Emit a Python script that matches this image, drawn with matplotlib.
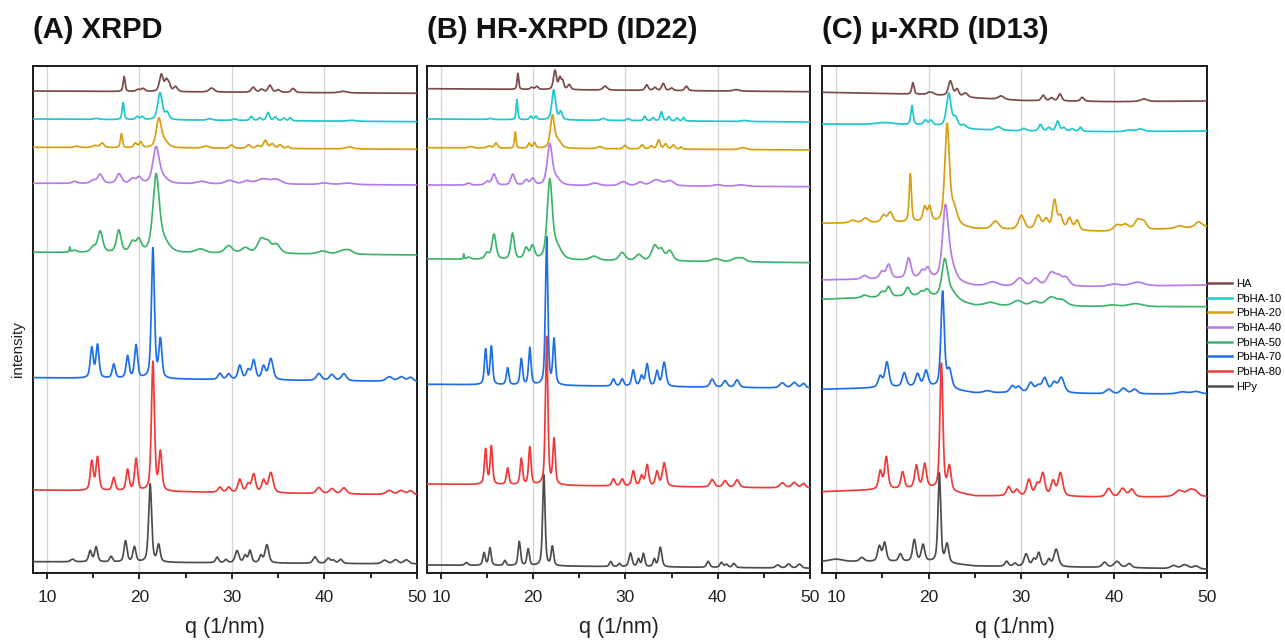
import numpy as np
import matplotlib
matplotlib.use("Agg")
import matplotlib.pyplot as plt
from matplotlib.lines import Line2D

plt.rcParams['font.family'] = ['Liberation Sans', 'DejaVu Sans']

# ---------------- labels ----------------
samples = ['HA', 'PbHA-10', 'PbHA-20', 'PbHA-40', 'PbHA-50', 'PbHA-70', 'PbHA-80', 'HPy']
colors = ['#7B4A4A', '#1CC8CC', '#D6A00F', '#B57BE6', '#3DB36B', '#1E6FE6', '#F03A3A', '#4D4D4D']
panel_titles = ['(A) XRPD', '(B) HR-XRPD (ID22)', '(C) \u03bc-XRD (ID13)']
x_ticks = [10, 20, 30, 40, 50]
x_label = 'q (1/nm)'
y_label = 'intensity'

# ---------------- panels A and B (lab XRPD / HR-XRPD) ----------------
# peak positions (q, 1/nm), heights (a.u.) and half widths, baselines (offset a.u. at q=8.5 and q=50)
HA_ab_pos = [18.35, 19.85, 20.4, 22.37, 22.9, 23.2, 23.9, 27.8, 32.3, 33.2, 34.1, 35.0, 36.6, 42.0]
HA_ab_wid = [0.08, 0.15, 0.15, 0.15, 0.12, 0.12, 0.15, 0.2, 0.15, 0.15, 0.15, 0.15, 0.15, 0.3]
HA_a_hgt = [15, 2, 3, 17, 10, 7, 5, 4, 5, 3, 7, 2.5, 4, 1.5]
HA_b_hgt = [16, 2, 3, 19, 11, 8, 5, 4, 5.5, 3, 7, 2.5, 4.5, 1.5]
HA_a_base = [482.0, 479.7]
HA_b_base = [484.3, 481.3]

P10_ab_pos = [15.36, 18.24, 19.75, 20.3, 22.23, 22.99, 27.6, 30.3, 32.1, 33.0, 33.9, 34.7, 35.6, 36.3, 42.9]
P10_ab_wid = [0.2, 0.08, 0.12, 0.12, 0.18, 0.15, 0.2, 0.15, 0.12, 0.12, 0.12, 0.12, 0.12, 0.1, 0.3]
P10_a_hgt = [1, 17, 3, 3, 27, 7, 1.5, 1.5, 4, 2.5, 8, 3.5, 2.5, 3, 1]
P10_b_hgt = [1, 20, 3.5, 3.5, 30, 8, 2, 2, 4.5, 3, 9, 4, 3, 3.5, 1]
P10_a_base = [454.0, 451.3]
P10_b_base = [454.0, 451.0]

P20_ab_pos = [13.2, 15.2, 15.97, 18.06, 19.57, 20.14, 22.09, 22.7, 27.2, 29.96, 31.8, 32.8, 33.6, 34.35, 35.2, 36.05, 42.7]
P20_ab_wid = [0.2, 0.2, 0.15, 0.08, 0.12, 0.12, 0.2, 0.3, 0.25, 0.15, 0.15, 0.15, 0.15, 0.15, 0.15, 0.12, 0.3]
P20_a_hgt = [1.3, 2, 4.5, 14, 4.5, 5.5, 28, 6, 2, 3.3, 3.5, 2.5, 8, 4.5, 3.5, 2, 2]
P20_b_hgt = [1.5, 2, 5, 16, 5, 5.5, 32, 7, 2, 3.5, 4, 3, 9, 5, 4, 2, 2]
P20_a_base = [425.7, 423.7]
P20_b_base = [425.3, 423.0]

P40_ab_pos = [13.0, 15.0, 15.76, 17.8, 19.24, 19.96, 21.8, 22.5, 26.7, 29.75, 31.6, 33.35, 34.8, 40.0, 42.5]
P40_ab_wid = [0.2, 0.2, 0.2, 0.2, 0.2, 0.2, 0.25, 0.4, 0.4, 0.35, 0.3, 0.5, 0.4, 0.4, 0.5]
P40_a_hgt = [2, 3, 9, 9.5, 4.5, 6, 35, 5, 2.5, 3.5, 3, 5, 4.5, 1.5, 1.5]
P40_b_hgt = [2, 3.5, 11, 11, 5, 6.5, 40, 6, 2.5, 4, 3.5, 6, 5, 1.5, 1.5]
P40_a_base = [389.7, 388.0]
P40_b_base = [388.0, 386.3]

P50_ab_pos = [12.48, 13.0, 15.0, 15.76, 17.77, 19.24, 19.93, 21.8, 22.55, 26.6, 29.64, 31.44, 33.17, 33.9, 34.8, 39.8, 42.0, 42.7]
P50_ab_wid = [0.04, 0.2, 0.2, 0.2, 0.18, 0.2, 0.2, 0.25, 0.45, 0.4, 0.3, 0.3, 0.3, 0.25, 0.3, 0.4, 0.4, 0.3]
P50_a_hgt = [5, 2, 5, 21, 22, 10, 12, 74, 11, 4, 7.5, 5.5, 14, 9, 9, 3, 3.5, 3]
P50_b_hgt = [5, 2, 6, 25, 26, 11, 13, 77, 12, 4, 8, 6, 15, 10, 10, 3, 3.5, 3]
P50_a_base = [320.7, 318.0]
P50_b_base = [314.0, 310.3]

P70_ab_pos = [14.85, 15.47, 17.23, 18.72, 19.64, 21.46, 22.27, 28.7, 29.65, 30.85, 31.75, 32.35, 33.42, 34.2, 39.4, 40.8, 42.1, 47.0, 48.3, 49.3]
P70_ab_wid = [0.12, 0.12, 0.12, 0.12, 0.12, 0.12, 0.12, 0.15, 0.15, 0.15, 0.15, 0.15, 0.15, 0.18, 0.2, 0.2, 0.2, 0.25, 0.25, 0.2]
P70_a_hgt = [30, 33, 14, 22, 33, 130, 38, 6, 5.5, 14, 9, 19, 13, 21, 7, 6, 7, 4.5, 4.5, 4]
P70_b_hgt = [35, 38, 17, 26, 37, 148, 45, 7, 7, 16, 10, 22, 15, 24, 8, 6.5, 7.5, 5, 5.5, 4.5]
P70_a_base = [195.3, 191.3]
P70_b_base = [188.7, 184.7]

P80_ab_pos = [14.85, 15.47, 17.23, 18.72, 19.64, 21.46, 22.27, 28.7, 29.65, 30.85, 31.75, 32.35, 33.42, 34.2, 39.4, 40.8, 42.1, 47.0, 48.3, 49.3]
P80_ab_wid = [0.12, 0.12, 0.12, 0.12, 0.12, 0.12, 0.12, 0.15, 0.15, 0.15, 0.15, 0.15, 0.15, 0.18, 0.2, 0.2, 0.2, 0.25, 0.25, 0.2]
P80_a_hgt = [29, 33, 13, 21, 32, 129, 38, 5, 5, 13, 8, 18, 12, 20, 6, 5, 6, 4, 4, 4]
P80_b_hgt = [35, 38, 16.5, 26, 37.5, 148, 45, 7, 7, 15, 10, 21, 14.5, 23.5, 7.5, 6.5, 7.5, 5, 5.5, 4.5]
P80_a_base = [83.0, 78.0]
P80_b_base = [89.0, 84.7]

HPy_ab_pos = [12.77, 14.68, 15.32, 16.94, 18.5, 19.46, 21.16, 22.08, 28.4, 29.35, 30.55, 31.42, 31.95, 33.13, 33.78, 38.97, 40.4, 40.95, 41.75, 46.5, 47.68, 48.85]
HPy_ab_wid = [0.15, 0.12, 0.12, 0.12, 0.12, 0.12, 0.12, 0.12, 0.12, 0.12, 0.15, 0.12, 0.12, 0.12, 0.15, 0.15, 0.15, 0.15, 0.15, 0.2, 0.2, 0.2]
HPy_a_hgt = [2.7, 11, 15, 5.5, 21, 15, 78, 17, 5.5, 3, 12, 7, 12, 7, 18, 6.5, 5, 3, 4, 3.5, 4, 4]
HPy_b_hgt = [2.7, 12.5, 17.5, 5, 24, 16.5, 91, 19, 5, 3, 13.5, 7.5, 13, 7.5, 19.5, 6, 5, 3, 4, 3, 4, 4]
HPy_a_base = [11.3, 9.0]
HPy_b_base = [8.0, 4.7]

# ---------------- panel C (micro-XRD) ----------------
C_base_q = [8.5, 20, 25, 30, 40, 50]

HA_c_pos = [18.3, 20.0, 20.4, 22.34, 23.06, 23.96, 27.8, 32.34, 33.24, 34.14, 36.55, 43.2]
HA_c_wid = [0.1, 0.15, 0.15, 0.18, 0.15, 0.2, 0.25, 0.15, 0.15, 0.15, 0.15, 0.3]
HA_c_hgt = [11.5, 2, 2, 15, 7, 4, 3.5, 5.5, 3, 7, 4, 2.5]
HA_c_base = [480.7, 478.5, 475.0, 472.5, 471.3, 472.0]

P10_c_pos = [15.3, 18.2, 19.64, 20.25, 22.16, 22.88, 23.8, 27.5, 30.25, 32.05, 32.95, 33.9, 34.57, 35.47, 36.37, 41.6, 42.8]
P10_c_wid = [0.8, 0.1, 0.15, 0.15, 0.2, 0.2, 0.2, 0.25, 0.2, 0.15, 0.15, 0.15, 0.15, 0.15, 0.12, 0.3, 0.3]
P10_c_hgt = [2, 19, 4.5, 4.5, 33, 9, 3, 3.5, 2.5, 6.5, 3.5, 10, 3.5, 2.5, 4, 1.5, 2.5]
P10_c_base = [449.0, 448.0, 443.5, 442.0, 441.3, 442.0]

P20_c_pos = [11.8, 13.17, 15.14, 15.86, 18.02, 19.57, 20.1, 21.98, 22.7, 27.2, 30.0, 31.8, 32.66, 33.56, 34.2, 35.18, 36.0, 40.3, 41.2, 42.55, 43.2, 47.0, 49.1]
P20_c_wid = [0.25, 0.25, 0.2, 0.2, 0.1, 0.15, 0.15, 0.2, 0.3, 0.3, 0.25, 0.25, 0.2, 0.18, 0.2, 0.2, 0.18, 0.3, 0.3, 0.3, 0.25, 0.3, 0.3]
P20_c_hgt = [2.5, 4.5, 7, 10, 48, 14, 14.5, 98, 16, 8, 14, 14, 10, 29, 13, 12, 10, 6, 6, 10, 7, 2.5, 5.5]
P20_c_base = [349.7, 351.0, 344.0, 343.0, 341.3, 346.0]

P40_c_pos = [13.1, 14.96, 15.68, 17.84, 19.28, 19.9, 21.8, 22.35, 26.9, 29.8, 31.5, 33.2, 34.0, 34.8, 40.0, 42.5]
P40_c_wid = [0.25, 0.2, 0.2, 0.2, 0.2, 0.2, 0.25, 0.4, 0.45, 0.35, 0.3, 0.35, 0.3, 0.3, 0.5, 0.6]
P40_c_hgt = [3.5, 7, 14, 20, 6.5, 9, 68, 16, 4, 8, 7.5, 13, 8, 8, 2.3, 4]
P40_c_base = [293.0, 294.7, 287.0, 286.3, 286.3, 288.0]

P50_c_pos = [13.1, 14.96, 15.68, 17.73, 19.2, 19.82, 21.73, 22.4, 26.65, 29.6, 31.4, 33.2, 34.4, 39.8, 42.3]
P50_c_wid = [0.25, 0.2, 0.2, 0.2, 0.2, 0.2, 0.25, 0.5, 0.45, 0.4, 0.35, 0.45, 0.4, 0.5, 0.6]
P50_c_hgt = [2.5, 5, 10, 8.5, 3.5, 5.5, 36, 8, 3, 5, 4, 8.5, 5.5, 1.5, 3]
P50_c_base = [273.7, 277.5, 267.5, 267.0, 266.3, 266.3]

P70_c_pos = [14.78, 15.5, 17.37, 18.8, 19.71, 21.5, 22.23, 26.3, 29.0, 29.7, 31.0, 31.8, 32.5, 33.5, 34.3, 39.4, 41.0, 42.2, 47.3, 48.8]
P70_c_wid = [0.18, 0.18, 0.18, 0.18, 0.18, 0.15, 0.2, 0.3, 0.2, 0.2, 0.22, 0.22, 0.22, 0.22, 0.25, 0.25, 0.25, 0.25, 0.4, 0.4]
P70_c_hgt = [11, 25, 14, 12.5, 15.5, 96, 18, 2, 6.5, 5.5, 9.5, 6, 14, 9.5, 15, 4.5, 5.5, 4.5, 2, 2.5]
P70_c_base = [183.7, 186.3, 180.0, 180.3, 179.0, 179.0]

P80_c_pos = [14.78, 15.43, 17.19, 18.67, 19.57, 21.37, 22.23, 28.63, 29.5, 30.8, 31.7, 32.3, 33.4, 34.2, 39.4, 40.9, 41.9, 47.0, 48.2, 48.8]
P80_c_wid = [0.15, 0.15, 0.15, 0.15, 0.15, 0.13, 0.15, 0.18, 0.18, 0.18, 0.18, 0.18, 0.18, 0.2, 0.22, 0.25, 0.22, 0.35, 0.35, 0.25]
P80_c_hgt = [18, 32, 16.5, 22.5, 23.5, 126, 24, 9, 6, 16, 11, 22, 14.5, 23, 8.5, 8.5, 7.5, 6, 6.5, 3.5]
P80_c_base = [81.3, 85.0, 77.0, 77.0, 75.7, 76.3]

HPy_c_pos = [10.0, 12.8, 14.68, 15.25, 16.94, 18.45, 19.39, 21.15, 21.98, 28.4, 29.3, 30.5, 31.33, 31.87, 32.95, 33.74, 38.96, 40.3, 41.6, 46.4, 47.6, 48.8]
HPy_c_wid = [0.6, 0.2, 0.15, 0.15, 0.15, 0.15, 0.15, 0.12, 0.15, 0.15, 0.15, 0.18, 0.15, 0.15, 0.15, 0.2, 0.2, 0.25, 0.2, 0.25, 0.3, 0.25]
HPy_c_hgt = [2.5, 4, 15, 18.5, 7.5, 21.5, 16.5, 89, 18.5, 5, 3, 12.5, 7, 13.5, 7, 17.5, 5, 6, 4, 3, 4, 3]
HPy_c_base = [11.3, 11.3, 7.0, 6.3, 5.5, 3.7]

# ---------------- tables built from the arrays ----------------
AB_base_q = [8.5, 50]
panel_A = [
    (HA_ab_pos, HA_a_hgt, HA_ab_wid, AB_base_q, HA_a_base),
    (P10_ab_pos, P10_a_hgt, P10_ab_wid, AB_base_q, P10_a_base),
    (P20_ab_pos, P20_a_hgt, P20_ab_wid, AB_base_q, P20_a_base),
    (P40_ab_pos, P40_a_hgt, P40_ab_wid, AB_base_q, P40_a_base),
    (P50_ab_pos, P50_a_hgt, P50_ab_wid, AB_base_q, P50_a_base),
    (P70_ab_pos, P70_a_hgt, P70_ab_wid, AB_base_q, P70_a_base),
    (P80_ab_pos, P80_a_hgt, P80_ab_wid, AB_base_q, P80_a_base),
    (HPy_ab_pos, HPy_a_hgt, HPy_ab_wid, AB_base_q, HPy_a_base),
]
panel_B = [
    (HA_ab_pos, HA_b_hgt, HA_ab_wid, AB_base_q, HA_b_base),
    (P10_ab_pos, P10_b_hgt, P10_ab_wid, AB_base_q, P10_b_base),
    (P20_ab_pos, P20_b_hgt, P20_ab_wid, AB_base_q, P20_b_base),
    (P40_ab_pos, P40_b_hgt, P40_ab_wid, AB_base_q, P40_b_base),
    (P50_ab_pos, P50_b_hgt, P50_ab_wid, AB_base_q, P50_b_base),
    (P70_ab_pos, P70_b_hgt, P70_ab_wid, AB_base_q, P70_b_base),
    (P80_ab_pos, P80_b_hgt, P80_ab_wid, AB_base_q, P80_b_base),
    (HPy_ab_pos, HPy_b_hgt, HPy_ab_wid, AB_base_q, HPy_b_base),
]
panel_C = [
    (HA_c_pos, HA_c_hgt, HA_c_wid, C_base_q, HA_c_base),
    (P10_c_pos, P10_c_hgt, P10_c_wid, C_base_q, P10_c_base),
    (P20_c_pos, P20_c_hgt, P20_c_wid, C_base_q, P20_c_base),
    (P40_c_pos, P40_c_hgt, P40_c_wid, C_base_q, P40_c_base),
    (P50_c_pos, P50_c_hgt, P50_c_wid, C_base_q, P50_c_base),
    (P70_c_pos, P70_c_hgt, P70_c_wid, C_base_q, P70_c_base),
    (P80_c_pos, P80_c_hgt, P80_c_wid, C_base_q, P80_c_base),
    (HPy_c_pos, HPy_c_hgt, HPy_c_wid, C_base_q, HPy_c_base),
]
panels = [panel_A, panel_B, panel_C]
width_scale = [1.6, 1.3, 1.45]


def pattern(q, pos, hgt, wid, bq, by, ws):
    y = np.interp(q, bq, by)
    eta = 0.5
    for p, h, w in zip(pos, hgt, wid):
        x = (q - p) / (w * ws)
        y = y + h * (eta / (1 + x * x) + (1 - eta) * np.exp(-np.log(2) * x * x))
    return y


# ---------------- figure ----------------
W, H = 1285, 641
fig = plt.figure(figsize=(W / 100, H / 100), dpi=100)
ax_px = [(33, 417), (427, 810), (822, 1207)]
top_px, bot_px = 66, 573

q = np.linspace(8.5, 50, 6000)
axes = []
for i, (l, r) in enumerate(ax_px):
    ax = fig.add_axes([l / W, 1 - bot_px / H, (r - l) / W, (bot_px - top_px) / H])
    axes.append(ax)
    for k, (pos, hgt, wid, bq, by) in enumerate(panels[i]):
        y = pattern(q, pos, hgt, wid, bq, by, width_scale[i])
        ax.plot(q, y, color=colors[k], lw=1.25, zorder=3 + (8 - k) * 0.01)
    ax.set_xlim(8.5, 50)
    ax.set_ylim(0, bot_px - top_px)
    ax.set_yticks([])
    ax.set_xticks(x_ticks)
    ax.set_xticks([15, 25, 35, 45], minor=True)
    ax.tick_params(axis='x', which='major', direction='out', length=4, width=1.2,
                   labelsize=12.5, pad=8, colors='#000000', labelcolor='#222222')
    ax.tick_params(axis='x', which='minor', direction='out', length=3.5, width=1.2)
    for s in ax.spines.values():
        s.set_linewidth(1.4)
        s.set_color('#1a1a1a')
    for g in [10, 20, 30, 40]:
        ax.axvline(g, color='#d4d4d4', lw=0.9, zorder=1)
    ax.set_xlabel(x_label, fontsize=15.5, labelpad=9, color='#222222')
    fig.text(l / W, 1 - 38 / H, panel_titles[i], fontsize=21, fontweight='bold',
             ha='left', va='baseline', color='#111111')

fig.text(18 / W, 1 - 349 / H, y_label, rotation=90, fontsize=11,
         ha='center', va='center', color='#222222')

handles = [Line2D([0], [0], color=c, lw=1.8) for c in colors]
fig.legend(handles, samples, loc='upper left', bbox_to_anchor=(1208 / W, 1 - 279 / H),
           bbox_transform=fig.transFigure, frameon=False, fontsize=8,
           handlelength=2.2, handletextpad=0.35, labelspacing=0.42,
           borderpad=0, borderaxespad=0)

fig.savefig('out.png', dpi=100)
